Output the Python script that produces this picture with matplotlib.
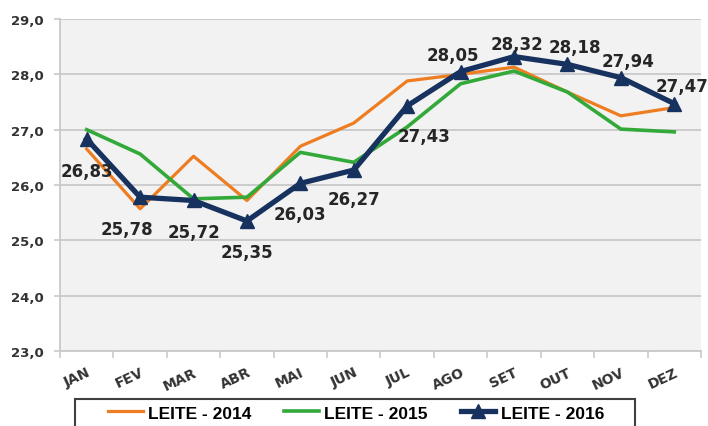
import matplotlib
matplotlib.use("Agg")
from matplotlib import pyplot as plt
from matplotlib.patches import Rectangle

# data
months = ['JAN', 'FEV', 'MAR', 'ABR', 'MAI', 'JUN', 'JUL', 'AGO', 'SET', 'OUT', 'NOV', 'DEZ']
leite_2014 = [26.65, 25.57, 26.52, 25.72, 26.70, 27.12, 27.88, 28.00, 28.13, 27.68, 27.25, 27.40]
leite_2015 = [27.00, 26.56, 25.75, 25.78, 26.59, 26.41, 27.05, 27.83, 28.06, 27.68, 27.01, 26.96]
leite_2016 = [26.83, 25.78, 25.72, 25.35, 26.03, 26.27, 27.43, 28.05, 28.32, 28.18, 27.94, 27.47]

# label offsets (pixels) for the 2016 values
label_offsets = [(0, -32), (-13, -32), (0, -32), (0, -31), (0, -31), (0, -29),
                 (17, -30), (-8, 17), (3, 13), (7, 17), (7, 17), (8, 18)]

fig = plt.figure(figsize=(7.08, 4.27), dpi=100)
ax = fig.add_axes([60 / 708, 1 - 352 / 427, 641 / 708, 332 / 427])
ax.set_facecolor('#f2f2f2')

x = list(range(len(months)))
ax.plot(x, leite_2014, color='#ee7d22', lw=2.3, label='LEITE - 2014', zorder=3)
ax.plot(x, leite_2015, color='#33a93a', lw=2.6, label='LEITE - 2015', zorder=3)
ax.plot(x, leite_2016, color='#17325f', lw=3.8, marker='^', ms=10,
        label='LEITE - 2016', zorder=4)

for i, v in enumerate(leite_2016):
    ax.annotate(f'{v:.2f}'.replace('.', ','), (i, v), xytext=label_offsets[i],
                textcoords='offset pixels', ha='center', va='center',
                fontsize=12, fontweight='bold', color='#262626', zorder=5)

ax.set_xlim(-0.5, 11.5)
ax.set_ylim(23, 29)
ax.set_yticks([23, 24, 25, 26, 27, 28, 29])
ax.set_yticklabels([f'{t:.1f}'.replace('.', ',') for t in range(23, 30)],
                   fontsize=9.5, fontweight='bold', color='#333333')
ax.grid(axis='y', color='#c9c9c9', lw=1.3, zorder=1)
ax.set_axisbelow(True)

ax.set_xticks(x)
ax.set_xticklabels(months, rotation=25, ha='right', rotation_mode='anchor',
                   fontsize=10, fontweight='bold', color='#333333')
ax.tick_params(axis='x', which='major', length=0, pad=10)
ax.set_xticks([i - 0.5 for i in range(13)], minor=True)
ax.tick_params(axis='x', which='minor', length=5, color='#c9c9c9', width=1.2)
ax.tick_params(axis='y', length=4, color='#c9c9c9', width=1.2, pad=8)

for side in ['top', 'right']:
    ax.spines[side].set_visible(False)
for side in ['left', 'bottom']:
    ax.spines[side].set_color('#c9c9c9')
    ax.spines[side].set_linewidth(1.3)

# legend box, cut by the bottom edge as in the original
fig.patches.append(Rectangle((75 / 708, -0.05), 560 / 708, 0.05 + 27 / 427,
                             transform=fig.transFigure, facecolor='white',
                             edgecolor='#404040', lw=1.5, zorder=0))
leg = fig.legend(loc='center', bbox_to_anchor=(356 / 708, 1 - 414 / 427),
                 ncol=3, frameon=False, borderpad=0,
                 handlelength=2.0, handletextpad=0.3, columnspacing=1.9,
                 prop={'family': 'Liberation Sans', 'weight': 'bold', 'size': 12.5})

plt.savefig('out.png', dpi=100)
